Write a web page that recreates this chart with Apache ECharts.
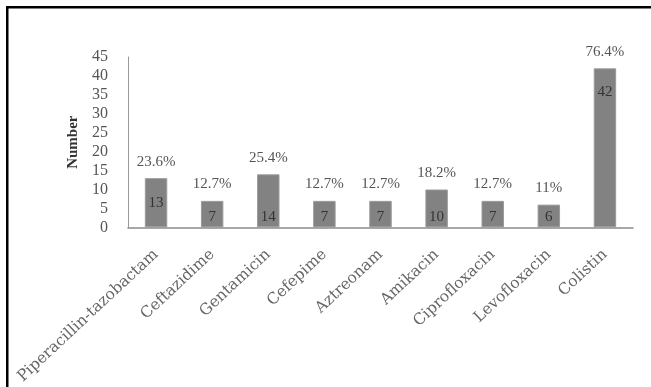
<!DOCTYPE html>
<html><head><meta charset="utf-8">
<script src="https://cdn.jsdelivr.net/npm/echarts@6/dist/echarts.min.js"></script>
<style>html,body{margin:0;padding:0;background:#fff}#c{width:651px;height:387px}</style>
</head><body><div id="c"></div>
<script>
var categories = ["Piperacillin-tazobactam","Ceftazidime","Gentamicin","Cefepime","Aztreonam","Amikacin","Ciprofloxacin","Levofloxacin","Colistin"];
var counts = [13,7,14,7,7,10,7,6,42];
var percents = ["23.6%","12.7%","25.4%","12.7%","12.7%","18.2%","12.7%","11%","76.4%"];
var countLabelPos = ["inside","insideBottom","insideBottom","insideBottom","insideBottom","insideBottom","insideBottom","insideBottom","insideTop"];

var FONT = "'Liberation Serif', 'DejaVu Serif', serif";
var chart = echarts.init(document.getElementById('c'), null, {renderer:'canvas'});
var valData = counts.map(function(v,i){
  return {value:v, label:{position:countLabelPos[i], distance: countLabelPos[i]==='insideTop'?16:3}};
});
chart.setOption({
  animation:false,
  backgroundColor:'#fff',
  graphic:[
    {type:'rect', shape:{x:6,y:6,width:645,height:2.5}, style:{fill:'#000'}},
    {type:'rect', shape:{x:6,y:6,width:2.5,height:381}, style:{fill:'#000'}}
  ],
  grid:{left:128,right:18,top:57,bottom:158,containLabel:false},
  xAxis:{
    type:'category', data:categories,
    axisLine:{lineStyle:{color:'#8a8a8a',width:1.5}},
    axisTick:{show:false},
    axisLabel:{rotate:43, interval:0, margin:25, color:'#666', fontFamily:"'DejaVu Serif', serif", fontSize:15.5}
  },
  yAxis:{
    type:'value', min:0, max:45, interval:5,
    name:'Number', nameLocation:'middle', nameGap:42, nameRotate:90,
    nameTextStyle:{fontFamily:FONT, fontWeight:'bold', fontSize:15, color:'#333'},
    axisLine:{show:true, lineStyle:{color:'#999',width:1}},
    axisTick:{show:false},
    splitLine:{show:false},
    axisLabel:{color:'#555', fontFamily:FONT, fontSize:16, margin:20}
  },
  series:[
    {type:'bar', data:valData, barWidth:'40%',
     itemStyle:{color:'#828282', borderColor:'#9a9a9a', borderWidth:1},
     label:{show:true, color:'#333', fontFamily:FONT, fontSize:15}},
    {type:'bar', data:counts, barWidth:'40%', barGap:'-100%',
     itemStyle:{color:'rgba(0,0,0,0)'}, silent:true,
     label:{show:true, position:'top', distance:9, color:'#555', fontFamily:FONT, fontSize:15,
       formatter:function(p){return percents[p.dataIndex];}}}
  ]
});
</script></body></html>
